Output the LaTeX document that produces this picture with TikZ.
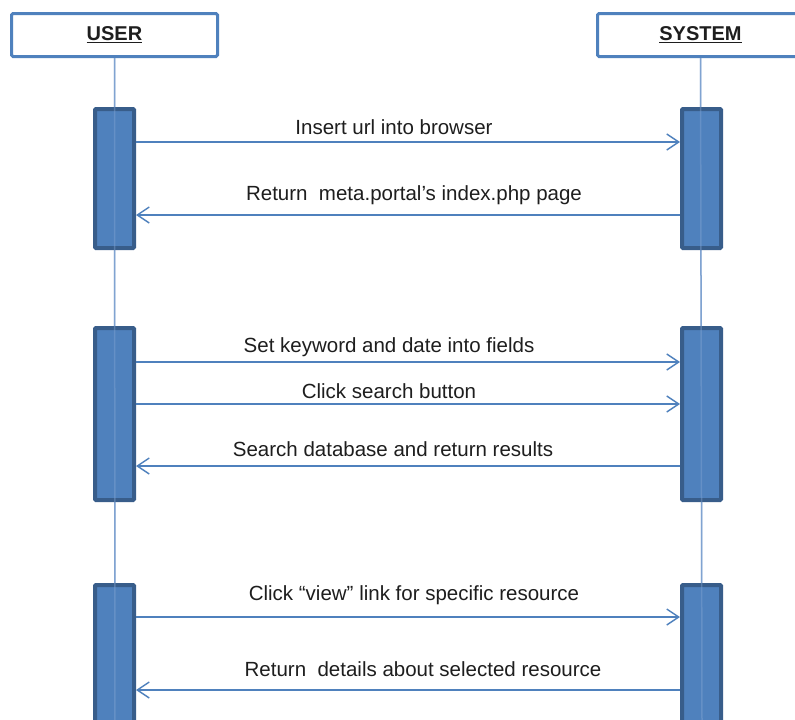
\documentclass[tikz,border=0pt]{standalone}
\usepackage{fontspec}
\setmainfont{Liberation Sans}
\usetikzlibrary{arrows.meta}
\definecolor{boxblue}{RGB}{79,129,189}
\definecolor{bardark}{RGB}{56,93,138}
\definecolor{lifeblue}{RGB}{128,163,209}
\definecolor{txt}{RGB}{30,30,30}
\begin{document}
\begin{tikzpicture}[x=1pt,y=-1pt,
  header/.style={draw=boxblue,line width=3pt,fill=white,rounded corners=1.5pt,
    minimum width=206pt,minimum height=43pt,inner sep=0pt,
    font=\fontsize{20}{24}\selectfont\bfseries,text=txt},
  actbar/.style={draw=bardark,line width=4pt,fill=boxblue,rounded corners=1pt,
    minimum width=39pt,inner sep=0pt},
  lifeline/.style={draw=lifeblue,line width=1.5pt},
  msg/.style={draw=boxblue,line width=1.4pt,
    -{Straight Barb[length=12pt,width=16pt,line width=1.4pt]}},
  msglabel/.style={font=\fontsize{20.5}{24}\selectfont,text=txt,inner sep=0pt,anchor=center}]
\useasboundingbox (0,0) rectangle (795,720);
\fill[white] (0,0) rectangle (795,720);

% participants
\node[header] (user) at (114.5,35) {\underline{USER}};
\node[header] (sys) at (700.5,35) {\underline{SYSTEM}};

% lifelines behind the activation bars
\coordinate (uend) at (115,722);
\coordinate (send) at (702,722);
\draw[lifeline] (user.south) -- (uend);
\draw[lifeline] (sys.south) -- (send);

% activation bars
\node[actbar,minimum height=139pt] (ub1) at (114.5,178.5) {};
\node[actbar,minimum height=172pt] (ub2) at (114.5,414) {};
\node[actbar,minimum height=160pt] (ub3) at (114.5,665) {};
\node[actbar,minimum height=139pt] (sb1) at (701.5,178.5) {};
\node[actbar,minimum height=172pt] (sb2) at (701.5,414) {};
\node[actbar,minimum height=160pt] (sb3) at (701.5,665) {};

% faint lifeline showing through the bars
\draw[lifeline,opacity=0.45] (user.south) -- (uend);
\draw[lifeline,opacity=0.45] (sys.south) -- (send);

% message rows
\coordinate (m1) at (0,142);
\coordinate (m2) at (0,215);
\coordinate (m3) at (0,362);
\coordinate (m4) at (0,404);
\coordinate (m5) at (0,466);
\coordinate (m6) at (0,617);
\coordinate (m7) at (0,690);

\draw[msg] (ub1.east |- m1) -- (sb1.west |- m1);
\draw[msg] (sb1.west |- m2) -- (ub1.east |- m2);
\draw[msg] (ub2.east |- m3) -- (sb2.west |- m3);
\draw[msg] (ub2.east |- m4) -- (sb2.west |- m4);
\draw[msg] (sb2.west |- m5) -- (ub2.east |- m5);
\draw[msg] (ub3.east |- m6) -- (sb3.west |- m6);
\draw[msg] (sb3.west |- m7) -- (ub3.east |- m7);

% message labels
\node[msglabel] (l1) at (394,127) {Insert url into browser};
\node[msglabel] (l2) at (414,195) {Return\ \ meta.portal's index.php page};
\node[msglabel] (l3) at (389,347) {Set keyword and date into fields};
\node[msglabel] (l4) at (389,391) {Click search button};
\node[msglabel] (l5) at (393,449) {Search database and return results};
\node[msglabel] (l6) at (414,595) {Click “view” link for specific resource};
\node[msglabel] (l7) at (423,669) {Return\ \ details about selected resource};
\end{tikzpicture}
\end{document}
